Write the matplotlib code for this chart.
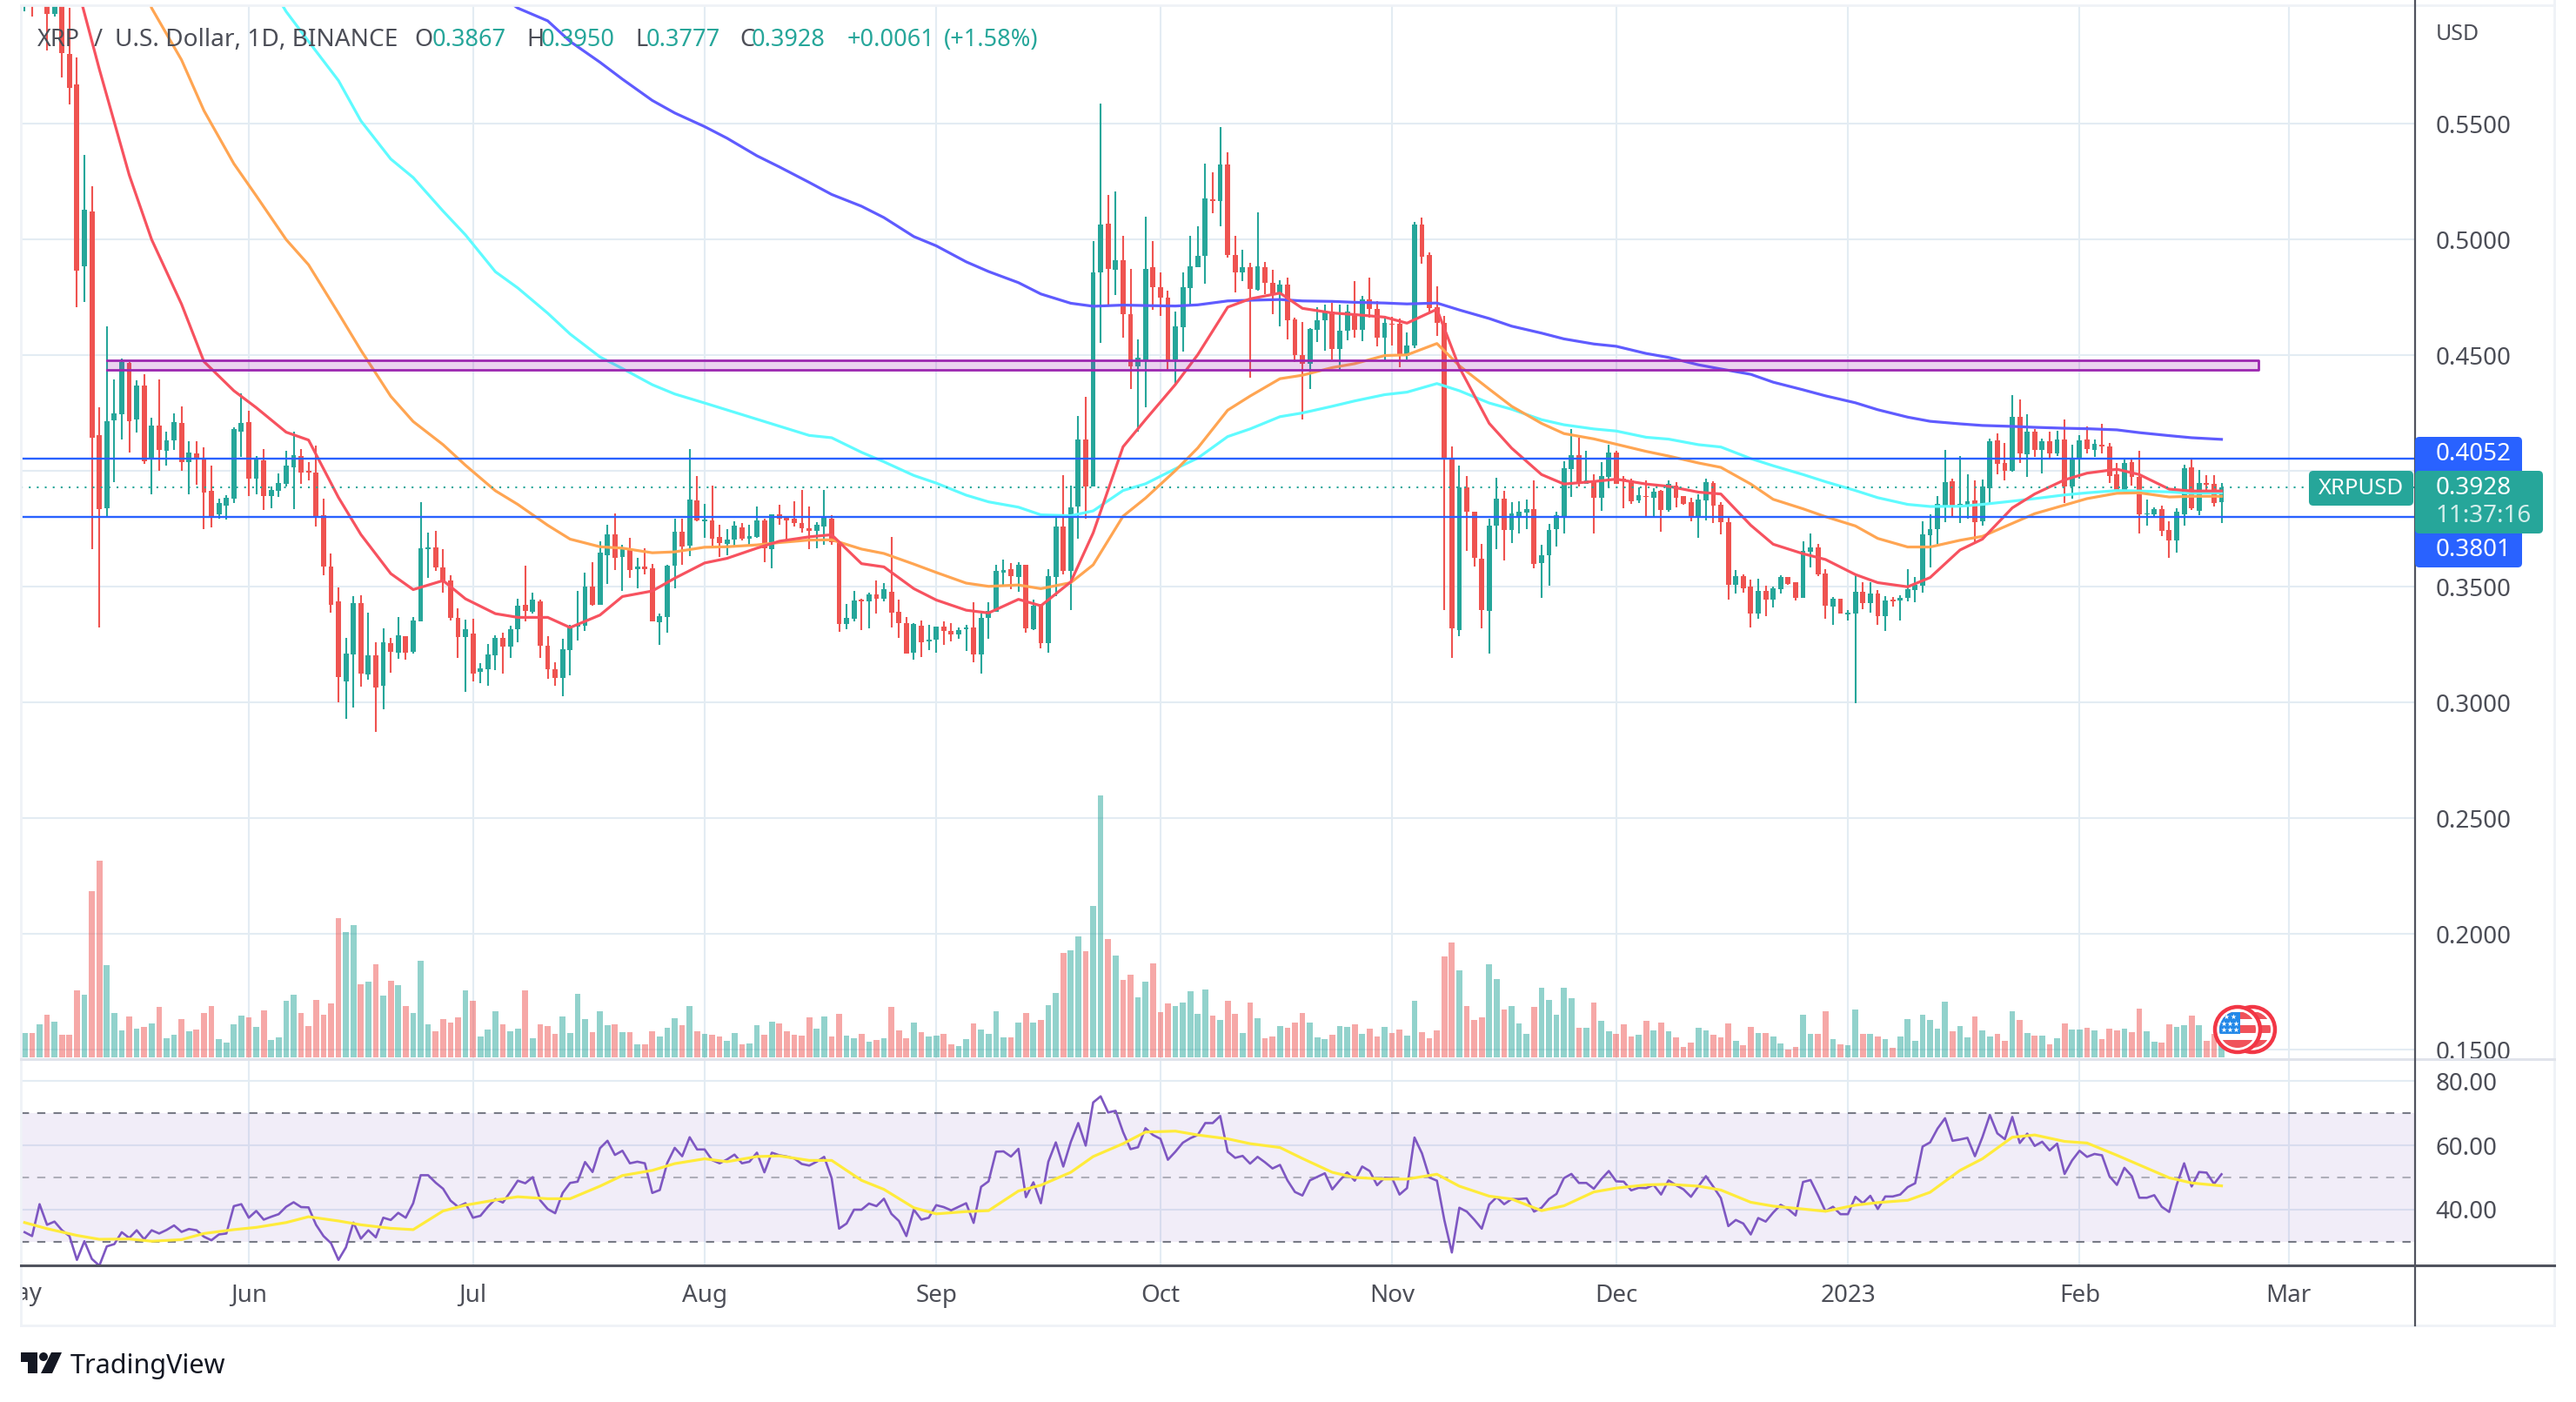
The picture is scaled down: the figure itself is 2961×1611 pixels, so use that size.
import matplotlib
matplotlib.use("Agg")
import matplotlib.pyplot as plt
from matplotlib.patches import Circle, FancyBboxPatch, Polygon, Rectangle
import pandas as pd

W, H = 2961, 1611
plt.rcParams['font.family'] = ['Noto Sans', 'DejaVu Sans']

dates = pd.date_range("2022-05-02", "2023-02-20")

opens = [
    .608,.625,.61,.65,.5975,.605,.58,.567,.4884,.512,.4155,.3841,.422,.4246,.4466,.4224,.4369,.4051,.4196,.4089,.4134,.4208,.404,.4076,.405,.3915,.3814,.3851,.3881,.417,
    .4211,.3968,.4048,.3893,.3915,.3945,.4016,.4065,.4001,.3994,.381,.3589,.3439,.309,.3206,.3431,.312,.3203,.3071,.3255,.3214,.3285,.3218,.3349,.3664,.3671,.3585,.3529,.3366,.3284,
    .3299,.3134,.3145,.3205,.328,.3243,.3318,.3423,.3393,.3438,.3246,.3145,.3108,.3228,.3329,.3333,.3501,.3423,.3636,.3726,.3629,.3666,.3576,.3588,.358,.3348,.337,.3591,.3738,.3678,.3873,
    .3783,.3786,.3715,.3685,.3704,.3756,.3708,.3715,.3786,.3663,.3813,.3801,.3794,.3775,.3753,.3741,.376,.3794,.3696,.334,.3363,.3446,.3436,.3469,.3449,.348,.3391,.3345,.3216,.3332,.3264,
    .327,.3329,.3309,.3293,.3316,.3326,.3208,.3365,.3391,.3562,.3575,.3544,.3596,.3317,.3417,.3257,.3544,.3761,.357,.3847,.4138,.3932,.4858,.5067,.4871,.4912,.4679,.4451,.448,.488,
    .4793,.4751,.4483,.462,.479,.4881,.493,.5173,.5165,.5323,.4933,.4858,.488,.4783,.4881,.4813,.4765,.4804,.4657,.45,.4464,.461,.4652,.4688,.4526,.4608,.4683,.4609,.4743,.4702,.4578,
    .4637,.4635,.4498,.4542,.5064,.4933,.4706,.4639,.4059,.3313,.3931,.3824,.3622,.3394,.3763,.388,.3746,.3807,.3821,.3834,.3602,.3636,.3748,.3807,.4009,.4069,.3944,.3955,.3883,.3974,
    .4079,.3967,.3961,.3872,.3893,.3885,.3915,.3831,.3939,.3891,.3865,.3803,.3872,.3947,.3853,.3778,.3508,.3545,.35,.3383,.3481,.3444,.3489,.3541,.3519,.3451,.365,.3669,.3556,.3414,.3447,
    .338,.3383,.3477,.3429,.347,.3372,.3444,.344,.3451,.3485,.3504,.3722,.3748,.385,.3955,.3842,.385,.3872,.3782,.3926,.4132,.4034,.40,.4233,.4071,.4169,.409,.4128,.4075,.4135,.3932,
    .4051,.4135,.409,.4113,.4105,.3985,.3914,.4038,.3974,.3812,.3812,.3835,.3744,.3699,.3812,.4015,.3827,.3947,.3944,.3867]
highs = [
    .625,.63,.66,.655,.615,.61,.6,.5785,.5364,.523,.4275,.4624,.4395,.4485,.447,.4391,.4418,.423,.4395,.417,.4249,.4279,.4129,.4129,.4103,.4024,.3881,.3896,.4189,.4335,
    .426,.4065,.4095,.3934,.399,.4088,.417,.4095,.4039,.411,.3881,.3645,.3499,.3278,.3458,.3465,.339,.3259,.3319,.3281,.3371,.3285,.3368,.3866,.3735,.3743,.3664,.3551,.3408,.3359,
    .3363,.3171,.3254,.3291,.3303,.3333,.3449,.3591,.3475,.3445,.3288,.3175,.3276,.3336,.3483,.3561,.3606,.3696,.3768,.3816,.3681,.3711,.3625,.3666,.3599,.3385,.3595,.3794,.3794,.4094,.3978,
    .3858,.3936,.3768,.3749,.3783,.3775,.3768,.3846,.3794,.3813,.3854,.3805,.3869,.3918,.3846,.3779,.3918,.3809,.3696,.3426,.3483,.3449,.3475,.3526,.3516,.3714,.3445,.337,.3342,.3355,.3335,
    .3329,.335,.3342,.3326,.3335,.3432,.3383,.3432,.3595,.3619,.3603,.3606,.3596,.3446,.3427,.3578,.3807,.3984,.3937,.4239,.432,.4992,.5586,.5191,.5206,.5015,.4875,.4568,.5097,.4992,
    .486,.478,.4689,.4858,.5015,.5059,.5328,.5292,.5485,.5377,.5017,.4956,.4898,.5119,.4902,.487,.4823,.4837,.4664,.4645,.4616,.4707,.4718,.4726,.472,.4718,.4822,.4755,.4835,.4733,.4672,
    .4668,.466,.4597,.5075,.5096,.4943,.4797,.4669,.4106,.4022,.3977,.3826,.3684,.3793,.397,.3914,.3864,.3868,.3876,.3958,.368,.3773,.3824,.4044,.4182,.4143,.4089,.3985,.4037,.4112,
    .4089,.3977,.3969,.3928,.3958,.3926,.392,.3958,.3951,.3891,.3883,.3898,.3966,.3955,.3865,.3797,.3571,.3553,.353,.3534,.3504,.35,.3549,.3541,.3519,.3695,.3729,.3684,.3575,.3455,.3447,
    .3398,.3553,.3519,.3519,.3485,.3459,.3455,.3462,.3575,.3541,.3782,.3812,.3891,.409,.3966,.4064,.3985,.3959,.3962,.4139,.4162,.412,.4327,.4308,.4244,.418,.4139,.4169,.4173,.4222,.4113,
    .4154,.4192,.4135,.4203,.412,.4034,.4049,.4056,.4086,.3876,.3842,.385,.3782,.3838,.4026,.4049,.4004,.3981,.3981,.395]
lows = [
    .5987,.5965,.605,.5817,.5965,.57,.5585,.4709,.473,.3664,.3324,.3799,.3954,.4138,.4081,.4168,.4033,.39,.4001,.4025,.4091,.4001,.39,.3941,.3748,.3758,.3795,.3789,.3863,.4061,
    .3893,.39,.3833,.384,.3889,.3934,.3836,.3945,.396,.3761,.3551,.339,.30,.2929,.2978,.3068,.3098,.2873,.297,.3128,.3188,.3184,.321,.3349,.354,.357,.3476,.3353,.3194,.3048,
    .3093,.3085,.3074,.3141,.3126,.3194,.3261,.3351,.3385,.3194,.3104,.3074,.3029,.3119,.3269,.331,.3419,.3423,.3513,.3573,.3483,.3539,.3494,.3554,.3351,.325,.3303,.3494,.3595,.3633,.3783,
    .3711,.3666,.3629,.3636,.367,.37,.3681,.3711,.3606,.358,.3768,.37,.376,.3734,.3663,.3666,.3681,.3681,.3306,.3318,.3351,.3312,.3322,.3386,.3436,.3326,.3281,.3211,.3184,.3198,.3228,
    .3215,.325,.3264,.3277,.3224,.3175,.3127,.3277,.3391,.3508,.3489,.348,.3301,.3312,.3236,.3215,.3459,.3554,.34,.3707,.3795,.3932,.4555,.472,.4761,.4576,.4353,.417,.4275,.4695,
    .4669,.4439,.4369,.4516,.472,.4881,.4809,.5113,.5059,.4924,.477,.4819,.4402,.478,.4764,.4676,.4627,.4567,.4471,.4222,.4354,.4559,.4519,.4481,.4437,.4565,.4578,.4563,.4663,.4539,.4475,
    .4541,.4448,.4481,.4531,.4895,.4682,.4582,.3398,.3193,.3287,.3654,.3586,.332,.321,.3661,.3613,.3688,.3732,.3748,.3579,.3454,.3505,.3675,.3732,.3887,.3934,.3944,.373,.3828,.3928,
    .3944,.384,.3857,.3861,.3807,.3807,.3738,.3826,.3842,.3856,.3782,.3711,.3786,.3774,.3726,.3444,.347,.3474,.3323,.3361,.3372,.341,.347,.3508,.344,.3451,.3583,.3545,.3361,.3335,.3383,
    .3353,.2996,.3402,.3387,.3335,.3308,.3414,.3353,.3436,.3432,.3474,.3583,.3684,.3778,.3797,.3774,.3793,.3684,.3763,.3861,.3985,.3959,.3996,.4034,.3974,.406,.3989,.4056,.4064,.3861,.388,
    .3966,.4075,.406,.4075,.3947,.391,.3898,.3936,.3729,.3763,.3805,.3718,.3624,.3647,.3763,.3831,.3808,.3914,.3846,.3777]
closes = [
    .618,.605,.65,.5975,.605,.5806,.5657,.4866,.5129,.4145,.3836,.4215,.4251,.447,.4216,.4369,.4044,.4195,.4093,.4133,.4211,.404,.408,.405,.3908,.3801,.3863,.3885,.4181,.4208,
    .3968,.4054,.3893,.3919,.3949,.4024,.4069,.3994,.3994,.3806,.3589,.3424,.3109,.321,.3428,.3124,.3203,.3064,.3259,.3218,.3289,.3214,.3353,.3668,.3671,.3585,.3525,.3364,.3284,.3318,
    .3126,.3149,.3209,.328,.3243,.3318,.3419,.3396,.3445,.3246,.3145,.3108,.3231,.3333,.3336,.3501,.3423,.3648,.3726,.3625,.3663,.3573,.3588,.3576,.3351,.3374,.3591,.3738,.3674,.3876,.3786,
    .379,.3708,.3689,.3704,.3764,.3708,.3719,.3786,.3666,.3813,.3794,.3786,.3775,.3753,.3741,.3768,.3798,.3693,.334,.3366,.3441,.3436,.3469,.3449,.3489,.3387,.3342,.3211,.3339,.326,.3273,
    .3329,.3309,.3293,.3314,.3326,.3208,.3366,.3394,.357,.3573,.3547,.3596,.3322,.3417,.3255,.3546,.3759,.3567,.3844,.4138,.3932,.486,.5064,.4875,.4912,.4679,.4451,.4488,.4875,.4793,
    .4748,.448,.4624,.4796,.4885,.493,.5176,.5168,.5323,.4933,.4858,.488,.4785,.4883,.4813,.4761,.4805,.4652,.4502,.4464,.4613,.4653,.469,.4526,.4608,.4688,.4609,.4741,.4699,.4575,.4639,
    .4633,.4499,.4543,.5064,.4925,.4703,.464,.4055,.332,.3931,.3824,.3625,.3398,.3766,.388,.3746,.3816,.3823,.3834,.3598,.3636,.3747,.381,.4012,.4069,.3954,.3958,.3883,.3977,.4079,
    .3944,.3961,.3868,.3895,.3887,.391,.3831,.3944,.3883,.386,.3803,.3876,.3951,.385,.3778,.3508,.3545,.3492,.3383,.3481,.3444,.3492,.3541,.3511,.3451,.3654,.3669,.3553,.3417,.3447,.3383,
    .3387,.3477,.3429,.347,.3372,.344,.3436,.3451,.3489,.3508,.3726,.3748,.3857,.3951,.3842,.3857,.3868,.3778,.3932,.4128,.403,.40,.4233,.4075,.4169,.409,.4128,.4075,.4135,.3932,.4056,
    .4132,.4094,.4117,.4108,.3977,.3914,.4034,.3974,.3812,.3816,.3835,.3741,.3699,.3823,.4011,.3838,.3947,.3941,.3861,.3928]

# volume, relative units
volumes = [
    62,62,84,108,91,58,58,170,159,422,499,234,113,69,104,73,78,86,128,49,58,97,66,71,113,130,47,38,84,106,
    102,78,119,44,51,144,159,113,80,146,108,137,353,318,336,186,192,236,157,194,183,130,113,245,84,66,97,89,102,170,
    144,53,71,117,84,66,73,170,49,84,80,60,104,62,161,97,64,117,82,84,64,64,33,33,66,53,75,100,82,130,66,
    60,58,53,42,62,33,36,82,58,91,86,66,58,55,102,73,104,53,111,55,49,60,40,44,49,128,69,49,89,64,53,
    55,60,33,29,47,86,71,60,117,51,51,89,113,89,95,133,164,265,272,307,269,384,664,300,258,197,210,152,192,238,
    115,137,130,139,168,111,172,106,95,144,111,62,139,100,49,53,80,75,89,113,89,51,47,58,80,78,84,60,73,53,78,
    62,71,55,144,64,49,69,256,291,221,130,95,102,236,199,122,130,86,60,128,177,146,108,177,150,75,75,139,93,66,
    60,84,53,58,93,69,89,66,51,27,38,75,69,58,51,86,42,31,77,62,62,53,35,20,26,108,60,60,117,46,33,
    31,121,60,60,53,46,24,53,97,42,108,95,73,141,66,79,51,104,68,53,60,42,117,95,62,55,55,33,49,86,71,
    71,75,68,46,73,68,73,64,123,66,40,38,84,77,82,106,82,42,60,33]

rsi = [
    33.0,31.8,41.7,35.3,36.3,33.6,31.8,24.4,30.2,24.7,22.6,28.6,29.3,33.0,31.2,33.6,30.8,33.6,32.6,33.7,35.1,33.1,34.0,33.6,31.6,30.5,32.3,32.6,41.1,41.7,
    37.5,39.6,36.9,37.8,38.6,40.9,42.3,40.8,40.7,35.3,31.8,29.6,24.4,28.3,36.0,31.0,33.6,31.4,37.5,36.8,39.0,37.5,42.0,50.7,50.7,48.4,46.5,42.8,40.9,42.0,
    37.5,38.1,40.9,43.3,42.2,45.5,49.0,48.2,50.1,42.9,40.2,38.9,45.2,48.3,48.7,54.8,51.7,59.1,61.4,57.0,58.3,54.4,54.9,54.4,45.2,46.1,54.5,59.2,56.6,62.5,58.7,
    58.7,55.4,54.4,55.6,57.1,54.4,54.9,57.7,51.6,57.7,56.9,56.5,55.9,54.2,53.7,54.9,56.4,49.8,34.1,35.7,40.0,40.0,41.9,41.1,43.4,38.7,36.5,31.8,40.0,36.9,37.5,
    41.4,40.8,39.8,40.9,42.0,35.9,47.1,48.8,58.0,58.1,56.5,58.9,43.9,48.5,42.0,54.9,60.9,53.4,61.0,66.9,59.9,73.3,75.2,70.2,70.7,64.1,58.8,59.4,65.3,63.2,
    62.0,55.5,58.0,60.8,62.2,63.2,66.9,66.9,69.1,58.0,56.1,56.7,54.3,56.4,54.7,52.8,53.9,49.1,45.5,44.4,49.1,50.2,51.3,46.3,49.1,51.6,49.0,53.4,52.0,47.6,49.9,
    49.8,44.7,46.7,62.4,57.5,50.0,49.0,36.7,26.7,40.6,39.4,36.9,34.1,41.6,43.9,41.7,43.3,43.3,43.5,39.4,40.6,43.3,44.9,49.8,51.1,48.3,48.3,46.5,49.5,52.0,
    48.8,48.7,46.0,46.8,46.7,47.7,44.7,49.1,47.6,46.3,44.0,47.3,50.4,47.1,43.6,34.9,36.8,35.7,32.3,37.4,36.3,39.1,41.5,40.2,38.2,48.6,49.2,44.5,39.5,40.9,38.6,
    38.6,44.0,42.0,44.3,40.2,44.1,44.1,44.7,47.0,48.2,59.6,60.9,65.2,68.4,61.4,61.8,62.3,56.6,62.5,69.4,63.7,61.9,68.8,60.7,63.6,59.8,61.1,58.4,60.5,51.1,55.3,
    58.3,56.4,57.3,56.9,50.4,47.7,53.0,50.4,43.7,43.7,44.5,40.9,39.3,47.7,54.4,47.2,51.7,51.5,48.0,51.0]

# moving averages read twice a week, the ones above the top edge are guesses
mondays = pd.date_range("2022-05-02", "2023-02-20", freq="7D")
ma_days = mondays.union(mondays[:-1] + pd.Timedelta(days=3))
ema20 = [.66,.635,.61,.5736,.5279,.50,.4721,.4473,.4347,.4274,.4168,.4134,.3886,.3726,.3557,.3488,.3527,.3448,
         .3384,.3368,.3368,.3324,.3378,.3458,.3482,.3537,.3603,.3623,.3667,.3697,.3716,.3725,.36,.3586,.3492,.3443,
         .3399,.3387,.3446,.3418,.3521,.3733,.4105,.4222,.4374,.4503,.4708,.4744,.4769,.4703,.4683,.4676,.4665,.4639,
         .4699,.4448,.4206,.4099,.3985,.3944,.3955,.3965,.3944,.3934,.3909,.3901,.3766,.3684,.3643,.3618,.3553,.3518,
         .35,.354,.3659,.3706,.3841,.3901,.3962,.3991,.4008,.3985,.3922,.3914,.3914]
ema50 = [.78,.74,.70,.665,.63,.60,.5776,.5557,.5328,.5189,.50,.4891,.4682,.4522,.4323,.4214,.4114,.4025,
         .3915,.3856,.3766,.3706,.3673,.3667,.3647,.3651,.3671,.3673,.3681,.3691,.3702,.3703,.3663,.3644,.3598,.3562,
         .3516,.3502,.3508,.3492,.3518,.3595,.3805,.3883,.4002,.41,.4263,.4324,.4399,.4414,.4447,.4464,.4499,.4502,
         .4551,.4455,.4354,.428,.4206,.4162,.4139,.4116,.4085,.4065,.4035,.4016,.3944,.3878,.3837,.3803,.3763,.3709,
         .3672,.3672,.3701,.3718,.3774,.3816,.3853,.3881,.3904,.3906,.3888,.3891,.3891]
ema100 = [.90,.86,.82,.78,.75,.72,.69,.66,.635,.62,.5985,.5856,.5687,.5513,.5348,.5268,.5123,.502,
          .4861,.4791,.4682,.4592,.4493,.4443,.4373,.4333,.4294,.4264,.4224,.4194,.4154,.4144,.4081,.404,.3981,.3948,
          .3896,.3867,.3844,.3811,.3807,.3828,.3916,.3945,.401,.4056,.4149,.4182,.4235,.4251,.428,.4303,.433,.4341,
          .4378,.4347,.4294,.4267,.4222,.42,.4182,.4173,.4146,.4138,.4114,.4104,.4054,.4023,.3985,.3954,.3916,.3885,
          .3856,.3847,.3848,.3856,.387,.3881,.3897,.3906,.3916,.3914,.391,.3904,.3906]
ema200 = [.77,.76,.75,.74,.73,.72,.71,.70,.69,.68,.672,.665,.655,.647,.638,.63,.622,.615,
          .607,.60,.5945,.5856,.5766,.5693,.5601,.5547,.5488,.5438,.5362,.5314,.5247,.5195,.5144,.5095,.5013,.4973,
          .4904,.4862,.4814,.4765,.4725,.4712,.4717,.4715,.4713,.4718,.4735,.4738,.4741,.4735,.4733,.4729,.4726,.4722,
          .4726,.4696,.4659,.4626,.4596,.4571,.4549,.4539,.4508,.4491,.4459,.4441,.4418,.4384,.4351,.4325,.4295,.4265,
          .4233,.4215,.4204,.4197,.4193,.4189,.4185,.4183,.4178,.4166,.4153,.4144,.4137]
rsi_ma = [36.0,34.1,32.0,30.8,30.9,30.2,30.7,32.6,33.8,34.5,36.0,37.8,36.5,35.3,34.2,33.8,39.6,41.4,
          43.0,44.0,43.4,43.4,47.3,50.6,52.2,54.3,55.8,54.9,56.5,56.7,55.3,55.3,49.1,46.3,40.6,38.7,
          39.4,39.7,45.8,47.6,51.6,56.5,60.5,64.1,64.4,63.2,62.0,60.5,59.3,55.9,51.6,50.0,49.5,49.5,
          51.0,47.3,44.2,43.3,39.7,41.2,45.5,46.7,47.7,47.9,47.3,46.1,42.3,41.1,40.2,39.5,41.4,42.2,
          42.9,45.4,52.2,55.8,62.5,63.2,61.2,60.7,56.9,53.9,49.9,48.3,47.4]

price_ticks = [.15, .20, .25, .30, .35, .40, .45, .50, .55]
price_labels = ["0.1500", "0.2000", "0.2500", "0.3000", "0.3500", "", "0.4500", "0.5000", "0.5500"]
rsi_ticks = [40, 60, 80]
month_ticks = ["2022-06-01", "2022-07-01", "2022-08-01", "2022-09-01", "2022-10-01", "2022-11-01", "2022-12-01", "2023-01-01", "2023-02-01", "2023-03-01"]
month_labels = ["Jun", "Jul", "Aug", "Sep", "Oct", "Nov", "Dec", "2023", "Feb", "Mar"]

UP = "#26a69a"
DOWN = "#ef5350"
GRID = "#e3ecf3"
TXT = "#4c4e57"
BLUE = "#2962ff"
PURPLE = "#9c27b0"


def pane(top, bottom):
    return plt.gcf().add_axes([24 / W, 1 - bottom / H, (2776 - 24) / W, (bottom - top) / H])


fig = plt.figure(figsize=(W / 100, H / 100), dpi=100, facecolor="white")
ax = pane(6, 1217)
ax_vol = ax.twinx()
ax_rsi = pane(1217, 1454)

# x range, 8.59 px a day with Jun 1 at px 286
left = pd.Timestamp("2022-06-01") - pd.Timedelta(days=30.5)
right = pd.Timestamp("2022-06-01") + pd.Timedelta(days=289.9)

colors = [UP if c >= o else DOWN for o, c in zip(opens, closes)]
bottoms = [min(o, c) for o, c in zip(opens, closes)]
sizes = [abs(o - c) for o, c in zip(opens, closes)]

ax.vlines(dates, lows, highs, colors=colors, linewidth=1.5, zorder=3)
ax.bar(dates, sizes, bottom=bottoms, width=0.68, color=colors, linewidth=0, zorder=3)

ax.plot(ma_days, ema200, color="#5f5bff", lw=2.3, zorder=4)
ax.plot(ma_days, ema100, color="#5ffbff", lw=2.3, zorder=4)
ax.plot(ma_days, ema50, color="#ffa552", lw=2.3, zorder=4)
ax.plot(ma_days, ema20, color="#f7525f", lw=2.3, zorder=4)

ax.axhline(.4052, color=BLUE, lw=1.7, zorder=5)
ax.axhline(.3801, color=BLUE, lw=1.7, zorder=5)
ax.plot([left, right], [.3928, .3928], color=UP, lw=1.5, ls=(0, (1, 3.4)), zorder=5)

box_start = pd.Timestamp("2022-05-13")
box_end = pd.Timestamp("2023-02-25")
ax.fill_between([box_start, box_end], .4436, .4479, facecolor=PURPLE, alpha=0.2, linewidth=0, zorder=5)
ax.plot([box_start, box_end, box_end, box_start], [.4479, .4479, .4436, .4436], color=PURPLE, lw=2.0, zorder=5)

ax.set_xlim(left, right)
ax.set_ylim(0.14597, 0.60124)
ax.set_yticks(price_ticks)
ax.set_yticklabels(price_labels)
ax.yaxis.tick_right()
ax.tick_params(axis="y", length=0, pad=17, labelsize=20, labelcolor=TXT)
ax.tick_params(axis="x", length=0, labelbottom=False)
ax.set_xticks(pd.to_datetime(month_ticks))
ax.grid(True, color=GRID, lw=1.5, zorder=0)
ax.set_axisbelow(True)
for s in ax.spines.values():
    s.set_visible(False)

ax_vol.bar(dates, volumes, width=0.78, color=colors, alpha=0.5, linewidth=0)
ax_vol.set_ylim(-4.4, 2665.6)
ax_vol.axis("off")
ax_vol.set_zorder(2)
ax.set_zorder(1)
ax_vol.patch.set_visible(False)

ax_rsi.axhspan(30, 70, facecolor="#7e57c2", alpha=0.1, linewidth=0, zorder=1)
ax_rsi.axhline(70, color="#787b86", lw=1.5, ls=(0, (4.5, 4.5)), zorder=2)
ax_rsi.axhline(50, color="#787b86", lw=1.5, ls=(0, (4.5, 4.5)), alpha=0.55, zorder=2)
ax_rsi.axhline(30, color="#787b86", lw=1.5, ls=(0, (4.5, 4.5)), zorder=2)
ax_rsi.plot(dates, rsi, color="#7e57c2", lw=1.9, zorder=3)
ax_rsi.plot(ma_days, rsi_ma, color="#ffeb3b", lw=2.3, zorder=4)
ax_rsi.set_xlim(left, right)
ax_rsi.set_ylim(22.7, 86.76)
ax_rsi.set_yticks(rsi_ticks)
ax_rsi.set_yticklabels(["%.2f" % r for r in rsi_ticks])
ax_rsi.yaxis.tick_right()
ax_rsi.tick_params(axis="y", length=0, pad=17, labelsize=20, labelcolor=TXT)
ax_rsi.set_xticks(pd.to_datetime(month_ticks))
ax_rsi.set_xticklabels(month_labels)
ax_rsi.tick_params(axis="x", length=0, pad=15, labelsize=20, labelcolor=TXT)
ax_rsi.get_xticklabels()[7].set_fontweight("bold")
ax_rsi.grid(True, color=GRID, lw=1.5, zorder=0)
ax_rsi.set_axisbelow(True)
ax_rsi.patch.set_visible(False)
for s in ax_rsi.spines.values():
    s.set_visible(False)

# everything round the panes, in pixels
top = fig.add_axes([0, 0, 1, 1], zorder=10)
top.set_xlim(0, W)
top.set_ylim(H, 0)
top.axis("off")

# the May label is cut by the left edge of the chart in the original too
may = top.text(21, 1487, "May", fontsize=20, color=TXT, ha="center", va="center", zorder=1, clip_on=True)
may.set_clip_path(Rectangle((24, 1460), 60, 60, transform=top.transData))

frame = "#eff2f7"
top.plot([24, 24], [6, 1523], color=frame, lw=2, zorder=1)
top.plot([24, 2936], [1523, 1523], color=frame, lw=2, zorder=1)
top.plot([24, 2936], [6, 6], color=frame, lw=2, zorder=1)
top.plot([2936, 2936], [0, 1523], color=frame, lw=2, zorder=1)
top.plot([24, 2936], [1217, 1217], color="#e0e3eb", lw=2.2, zorder=1)
top.plot([24, 2936], [1454, 1454], color="#50535e", lw=2.2, zorder=3)
top.plot([2776, 2776], [0, 1523], color="#50535e", lw=1.6, zorder=3)

top.text(2800, 40, "USD", fontsize=18, color=TXT, va="center")

header = [(43, "XRP", TXT, 19.5), (108, "/", TXT, 19.5), (132, "U.S. Dollar, 1D, BINANCE", TXT, 20.2),
          (476, "O", TXT, 19.5), (497, "0.3867", UP, 19.5), (605, "H", TXT, 19.5), (622, "0.3950", UP, 19.5),
          (730, "L", TXT, 19.5), (743, "0.3777", UP, 19.5), (850, "C", TXT, 19.5), (864, "0.3928", UP, 19.5),
          (974, "+0.0061", UP, 19.5), (1085, "(+1.58%)", UP, 19.5)]
for x, word, col, size in header:
    top.text(x, 46, word, fontsize=size, color=col, va="center")


def badge(x0, y0, x1, y1, col):
    top.add_patch(FancyBboxPatch((x0 + 5, y0 + 5), x1 - x0 - 10, y1 - y0 - 10, boxstyle="round,pad=5,rounding_size=5",
                                 facecolor=col, edgecolor="none", zorder=4))


badge(2776, 502, 2899, 548, BLUE)
badge(2776, 606, 2899, 652, BLUE)
badge(2776, 541, 2923, 613, UP)
badge(2654, 541, 2774, 581, UP)
top.text(2800, 522, "0.4052", fontsize=20, color="white", va="center", zorder=5)
top.text(2800, 632, "0.3801", fontsize=20, color="white", va="center", zorder=5)
top.text(2800, 561, "0.3928", fontsize=20, color="white", va="center", zorder=5)
top.text(2800, 593, "11:37:16", fontsize=20, color="#d4eeeb", va="center", zorder=5)
top.text(2714, 561, "XRPUSD", fontsize=18.5, color="white", va="center", ha="center", zorder=5)


def flag(cx, cy, z):
    disc = Circle((cx, cy), 26, facecolor="white", edgecolor="#f23645", lw=3.2, zorder=z)
    top.add_patch(disc)
    inner = Circle((cx, cy), 21, transform=top.transData)
    for y0, h in [(1163, 8), (1178, 9), (1195, 9)]:
        r = Rectangle((cx - 24, y0), 48, h, facecolor="#f0525a", edgecolor="none", zorder=z)
        top.add_patch(r)
        r.set_clip_path(inner)
    r = Rectangle((cx - 22, 1163), 25, 25, facecolor="#2489e8", edgecolor="none", zorder=z)
    top.add_patch(r)
    r.set_clip_path(inner)
    top.scatter([cx - 13, cx - 5, cx - 16, cx - 9, cx - 2, cx - 16, cx - 9, cx - 2],
                [1168, 1168, 1176, 1176, 1176, 1183, 1183, 1183], marker="*", s=22, color="white", linewidths=0, zorder=z)


flag(2589, 1183, 6)
flag(2572, 1183, 7)

# TradingView mark
top.add_patch(Polygon([(24, 1554), (43, 1554), (43, 1578), (32, 1578), (32, 1565), (24, 1565)], facecolor="#131722", edgecolor="none"))
top.add_patch(Circle((50, 1559), 5, facecolor="#131722", edgecolor="none"))
top.add_patch(Polygon([(59, 1554), (71, 1554), (60, 1578), (47, 1578)], facecolor="#131722", edgecolor="none"))
top.text(81, 1570, "TradingView", fontsize=22, color="#131722", va="center")

fig.savefig("out.png", dpi=100)
